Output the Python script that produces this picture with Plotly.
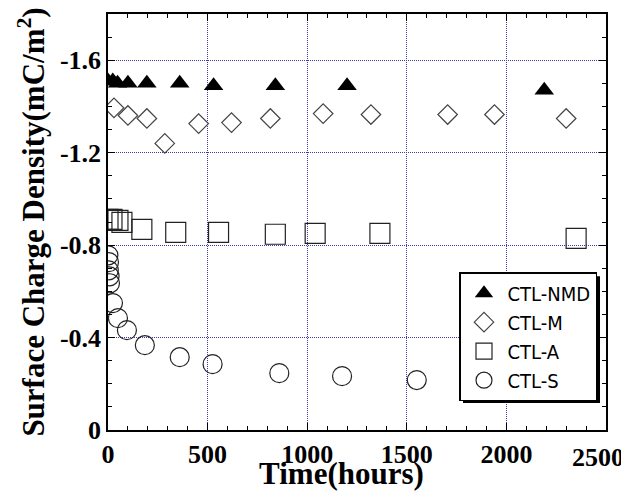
import plotly.graph_objects as go

# CTL-NMD
nmd_x = [0, 24, 48, 100, 195, 360, 530, 840, 1200, 2190]
nmd_y = [-1.51, -1.51, -1.50, -1.50, -1.50, -1.50, -1.49, -1.49, -1.49, -1.47]
# CTL-M
m_x = [30, 100, 195, 285, 455, 620, 815, 1080, 1320, 1705, 1940, 2300]
m_y = [-1.394, -1.361, -1.348, -1.240, -1.326, -1.330, -1.348, -1.369, -1.365, -1.365, -1.365, -1.348]
# CTL-A
a_x = [0, 20, 50, 70, 170, 340, 555, 840, 1040, 1365, 2350]
a_y = [-0.911, -0.911, -0.907, -0.898, -0.868, -0.855, -0.855, -0.847, -0.851, -0.851, -0.829]
# CTL-S
s_x = [2, 5, 4, 8, 10, 25, 50, 95, 185, 360, 525, 860, 1175, 1550]
s_y = [-0.756, -0.726, -0.691, -0.665, -0.635, -0.549, -0.484, -0.432, -0.367, -0.315, -0.285, -0.246, -0.233, -0.216]

y_ticks = [0, -0.4, -0.8, -1.2, -1.6]
y_ticktext = ["0", "-0.4", "-0.8", "-1.2", "-1.6"]
x_ticks = [0, 500, 1000, 1500, 2000, 2500]
x_ticktext = ["0", "500", "1000", "1500", "2000", "2500"]

fig = go.Figure()
fig.add_trace(go.Scatter(x=nmd_x, y=nmd_y, mode="markers", name="CTL-NMD",
                         marker=dict(symbol="triangle-up", size=17, color="black",
                                     line=dict(width=0))))
fig.add_trace(go.Scatter(x=m_x, y=m_y, mode="markers", name="CTL-M",
                         marker=dict(symbol="diamond-open", size=15, color="#444444",
                                     line=dict(width=1.2))))
fig.add_trace(go.Scatter(x=a_x, y=a_y, mode="markers", name="CTL-A",
                         marker=dict(symbol="square-open", size=20, color="#222222",
                                     line=dict(width=1.2))))
fig.add_trace(go.Scatter(x=s_x, y=s_y, mode="markers", name="CTL-S",
                         marker=dict(symbol="circle-open", size=19, color="#222222",
                                     line=dict(width=1.2))))

axis_font = dict(family="Liberation Serif", size=26, color="black")
grid_col = "#3a3aa8"

# plot area in page pixels: x 108..606, y 13.5..430 (page has an 8px body margin)
def px(x):
    return (x - 108) / 498

def py(y):
    return (430 - y) / 416.5

# legend drop shadow
fig.add_shape(type="rect", xref="paper", yref="paper",
              x0=px(463), x1=px(600), y0=py(403), y1=py(276),
              fillcolor="black", line=dict(width=0), layer="above")

# last x tick label sits a little inside the page edge in the reference
shown_ticktext = [f"<b>{t}</b>" for t in x_ticktext[:-1]] + [""]
fig.add_annotation(x=px(626), y=py(441), xref="paper", yref="paper",
                   xanchor="right", yanchor="top", showarrow=False,
                   text=f"<b>{x_ticktext[-1]}</b>", font=axis_font)

fig.update_layout(
    width=621, height=483,
    margin=dict(l=100, r=23, t=6, b=61),
    plot_bgcolor="white", paper_bgcolor="white",
    showlegend=True,
    legend=dict(x=px(459), y=py(272), xanchor="left", yanchor="top",
                bgcolor="white", bordercolor="black", borderwidth=1.5,
                font=dict(family="DejaVu Sans Condensed, DejaVu Sans", size=20, color="black"),
                itemwidth=37, tracegroupgap=0),
    xaxis=dict(range=[0, 2500], tickvals=x_ticks,
               ticktext=shown_ticktext,
               tickfont=axis_font, ticks="inside", ticklen=7, tickcolor="black",
               showline=True, linecolor="black", linewidth=1.5, mirror="ticks",
               showgrid=True, gridcolor=grid_col, griddash="1px,1px", gridwidth=1,
               zeroline=False, automargin=False,
               minor=dict(dtick=100, ticks="inside", ticklen=4, tickcolor="black", showgrid=False),
               title=dict(text="<b>Time(hours)</b>&nbsp;&nbsp;&nbsp;&nbsp;",
                          font=dict(family="Liberation Serif", size=31, color="black"), standoff=6)),
    yaxis=dict(range=[0, -1.8], tickvals=y_ticks,
               ticktext=[f"<b>{t}</b>" for t in y_ticktext],
               tickfont=axis_font, ticks="inside", ticklen=7, tickcolor="black",
               showline=True, linecolor="black", linewidth=1.5, mirror="ticks",
               showgrid=True, gridcolor=grid_col, griddash="1px,1px", gridwidth=1,
               zeroline=False, automargin=False,
               minor=dict(dtick=0.1, ticks="inside", ticklen=4, tickcolor="black", showgrid=False),
               title=dict(text="<b>Surface Charge Density(mC/m<sup>2</sup>)</b>",
                          font=dict(family="Liberation Serif", size=31, color="black"), standoff=6)),
)

fig.write_html("out.html")
